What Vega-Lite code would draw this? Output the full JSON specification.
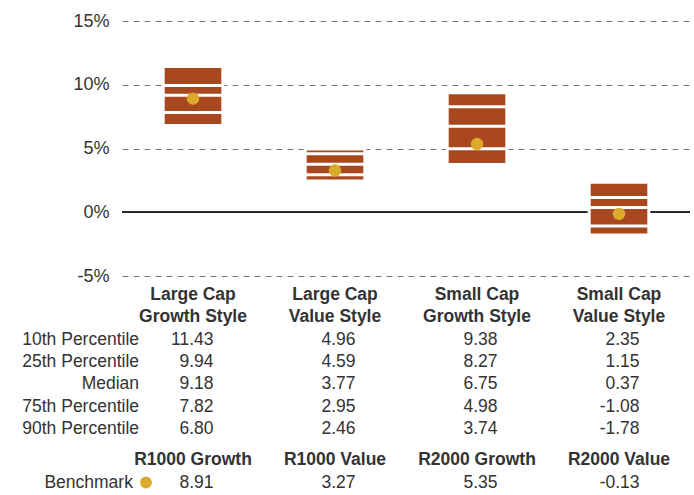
{
  "$schema": "https://vega.github.io/schema/vega-lite/v6.json",
  "autosize": {"type": "pad"},
  "padding": {"left": 22, "top": 12, "right": 4, "bottom": 1},
  "background": "white",
  "config": {
    "view": {"stroke": null},
    "axisX": {"disable": true},
    "locale": {"number": {"decimal": ".", "thousands": ",", "grouping": [3], "currency": ["$", ""], "minus": "-"}},
    "text": {"font": "Liberation Sans", "fontSize": 17.5, "color": "#333333"}
  },
  "datasets": {
    "styles": [
      {"style": "Large Cap Growth Style", "line1": "Large Cap", "line2": "Growth Style", "p10": 11.43, "p25": 9.94, "median": 9.18, "p75": 7.82, "p90": 6.80, "benchmark": "R1000 Growth", "bench": 8.91},
      {"style": "Large Cap Value Style", "line1": "Large Cap", "line2": "Value Style", "p10": 4.96, "p25": 4.59, "median": 3.77, "p75": 2.95, "p90": 2.46, "benchmark": "R1000 Value", "bench": 3.27},
      {"style": "Small Cap Growth Style", "line1": "Small Cap", "line2": "Growth Style", "p10": 9.38, "p25": 8.27, "median": 6.75, "p75": 4.98, "p90": 3.74, "benchmark": "R2000 Growth", "bench": 5.35},
      {"style": "Small Cap Value Style", "line1": "Small Cap", "line2": "Value Style", "p10": 2.35, "p25": 1.15, "median": 0.37, "p75": -1.08, "p90": -1.78, "benchmark": "R2000 Value", "bench": -0.13}
    ],
    "rowlabels": [
      {"row": "p10", "label": "10th Percentile"},
      {"row": "p25", "label": "25th Percentile"},
      {"row": "median", "label": "Median"},
      {"row": "p75", "label": "75th Percentile"},
      {"row": "p90", "label": "90th Percentile"},
      {"row": "bench", "label": "Benchmark"}
    ]
  },
  "bounds": "flush",
  "spacing": 8,
  "resolve": {"scale": {"x": "shared", "y": "independent"}},
  "vconcat": [
    {
      "width": 568,
      "height": 255,
      "data": {"name": "styles"},
      "layer": [
        {
          "mark": {"type": "rule", "color": "#222222", "strokeWidth": 1.5},
          "encoding": {"y": {"datum": 0, "type": "quantitative"}}
        },
        {
          "mark": {"type": "bar", "color": "#A9471F", "stroke": "white", "strokeWidth": 3, "width": {"band": 0.42}},
          "encoding": {
            "x": {"field": "style", "type": "nominal", "sort": null, "scale": {"paddingInner": 0, "paddingOuter": 0}, "axis": null},
            "y": {
              "field": "p90", "type": "quantitative",
              "scale": {"domain": [-5, 15], "nice": false, "zero": false},
              "axis": {
                "title": null, "values": [-5, 0, 5, 10, 15], "labelExpr": "datum.value + '%'",
                "domain": false, "ticks": false, "labelPadding": 13, "labelFontSize": 18,
                "labelFont": "Liberation Sans", "labelColor": "#333333",
                "grid": true, "gridDash": [6, 5], "gridColor": "#777777", "gridWidth": 1
              }
            },
            "y2": {"field": "p10"}
          }
        },
        {
          "transform": [{"fold": ["p25", "median", "p75"], "as": ["stat", "v"]}],
          "mark": {"type": "tick", "color": "white", "thickness": 3, "size": 58, "opacity": 1},
          "encoding": {
            "x": {"field": "style", "type": "nominal", "sort": null, "axis": null},
            "y": {"field": "v", "type": "quantitative"}
          }
        },
        {
          "mark": {"type": "point", "filled": true, "color": "#DBA92B", "size": 155, "opacity": 1},
          "encoding": {
            "x": {"field": "style", "type": "nominal", "sort": null, "axis": null},
            "y": {"field": "bench", "type": "quantitative"}
          }
        }
      ]
    },
    {
      "width": 568,
      "height": 156,
      "layer": [
        {
          "data": {"name": "styles"},
          "transform": [{"fold": ["line1", "line2"], "as": ["hl", "htext"]}],
          "mark": {"type": "text", "fontWeight": "bold", "align": "center"},
          "encoding": {
            "x": {"field": "style", "type": "nominal", "sort": null, "axis": null},
            "y": {"field": "hl", "type": "nominal", "scale": {"domain": ["line1", "line2", "p10", "p25", "median", "p75", "p90"], "paddingInner": 0, "paddingOuter": 0}, "axis": null},
            "text": {"field": "htext"}
          }
        },
        {
          "data": {"name": "styles"},
          "transform": [{"fold": ["p10", "p25", "median", "p75", "p90"], "as": ["stat", "v"]}],
          "mark": {"type": "text", "align": "right"},
          "encoding": {
            "x": {"field": "style", "type": "nominal", "sort": null, "bandPosition": 0.645, "axis": null},
            "y": {"field": "stat", "type": "nominal", "axis": null},
            "text": {"field": "v", "type": "quantitative", "format": ".2f"}
          }
        },
        {
          "data": {"name": "rowlabels"},
          "transform": [{"filter": "datum.row != 'bench'"}],
          "mark": {"type": "text", "align": "right"},
          "encoding": {
            "x": {"datum": "Large Cap Growth Style", "type": "nominal", "bandPosition": 0.12, "axis": null},
            "y": {"field": "row", "type": "nominal", "axis": null},
            "text": {"field": "label"}
          }
        }
      ]
    },
    {
      "width": 568,
      "height": 46,
      "layer": [
        {
          "data": {"name": "styles"},
          "mark": {"type": "text", "fontWeight": "bold", "align": "center"},
          "encoding": {
            "x": {"field": "style", "type": "nominal", "sort": null, "axis": null},
            "y": {"datum": "bname", "type": "nominal", "scale": {"domain": ["bname", "bench"], "paddingInner": 0, "paddingOuter": 0}, "axis": null},
            "text": {"field": "benchmark"}
          }
        },
        {
          "data": {"name": "styles"},
          "mark": {"type": "text", "align": "right"},
          "encoding": {
            "x": {"field": "style", "type": "nominal", "sort": null, "bandPosition": 0.645, "axis": null},
            "y": {"datum": "bench", "type": "nominal", "axis": null},
            "text": {"field": "bench", "type": "quantitative", "format": ".2f"}
          }
        },
        {
          "data": {"name": "rowlabels"},
          "transform": [{"filter": "datum.row == 'bench'"}],
          "mark": {"type": "text", "align": "right"},
          "encoding": {
            "x": {"datum": "Large Cap Growth Style", "type": "nominal", "bandPosition": 0.077, "axis": null},
            "y": {"field": "row", "type": "nominal", "axis": null},
            "text": {"field": "label"}
          }
        },
        {
          "data": {"name": "rowlabels"},
          "transform": [{"filter": "datum.row == 'bench'"}],
          "mark": {"type": "point", "filled": true, "color": "#DBA92B", "size": 140, "opacity": 1},
          "encoding": {
            "x": {"datum": "Large Cap Growth Style", "type": "nominal", "bandPosition": 0.169, "axis": null},
            "y": {"field": "row", "type": "nominal", "axis": null}
          }
        }
      ]
    }
  ]
}
